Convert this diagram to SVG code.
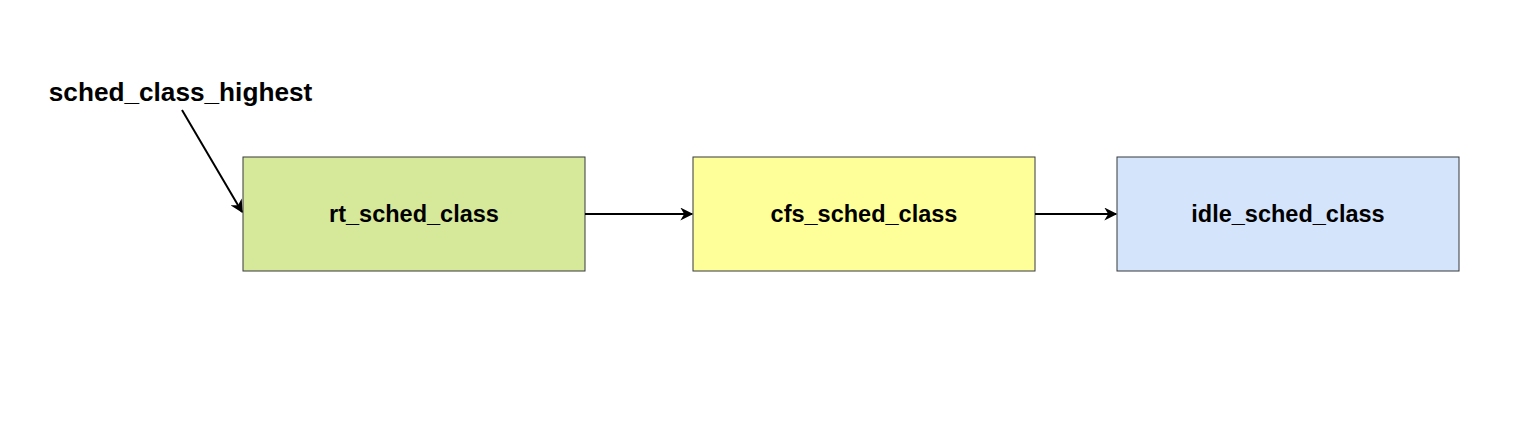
<svg xmlns="http://www.w3.org/2000/svg" width="1532" height="424" viewBox="0 0 1532 424">
<style>
.box{stroke:#36393d;stroke-width:1}
.t{font-family:"Liberation Sans",Arial,sans-serif;font-weight:bold;font-size:23.5px;fill:#000;text-anchor:middle;dominant-baseline:central}
.c{stroke:#000;stroke-width:2;fill:none}
</style>
<defs>
<marker id="a" viewBox="0 0 10 10" refX="9" refY="5" markerWidth="15" markerHeight="13" markerUnits="userSpaceOnUse" orient="auto">
<path d="M0,0 L10,5 L0,10 L3,5 Z" fill="#000"/>
</marker>
</defs>
<rect width="1532" height="424" fill="#fff"/>
<g id="label">
<text x="180.5" y="92" class="t" style="font-size:26.2px">sched_class_highest</text>
</g>
<g id="rt">
<rect class="box" x="243" y="157" width="342" height="114" fill="#d6e99a"/>
<text class="t" x="414" y="214">rt_sched_class</text>
</g>
<g id="cfs">
<rect class="box" x="693" y="157" width="342" height="114" fill="#ffff99"/>
<text class="t" x="864" y="214">cfs_sched_class</text>
</g>
<g id="idle">
<rect class="box" x="1117" y="157" width="342" height="114" fill="#d4e4fb"/>
<text class="t" x="1288" y="214">idle_sched_class</text>
</g>
<g id="connectors">
<path class="c" d="M182,110 L242,212" marker-end="url(#a)"/>
<path class="c" d="M585,214 L692,214" marker-end="url(#a)"/>
<path class="c" d="M1035,214 L1116,214" marker-end="url(#a)"/>
</g>
</svg>
